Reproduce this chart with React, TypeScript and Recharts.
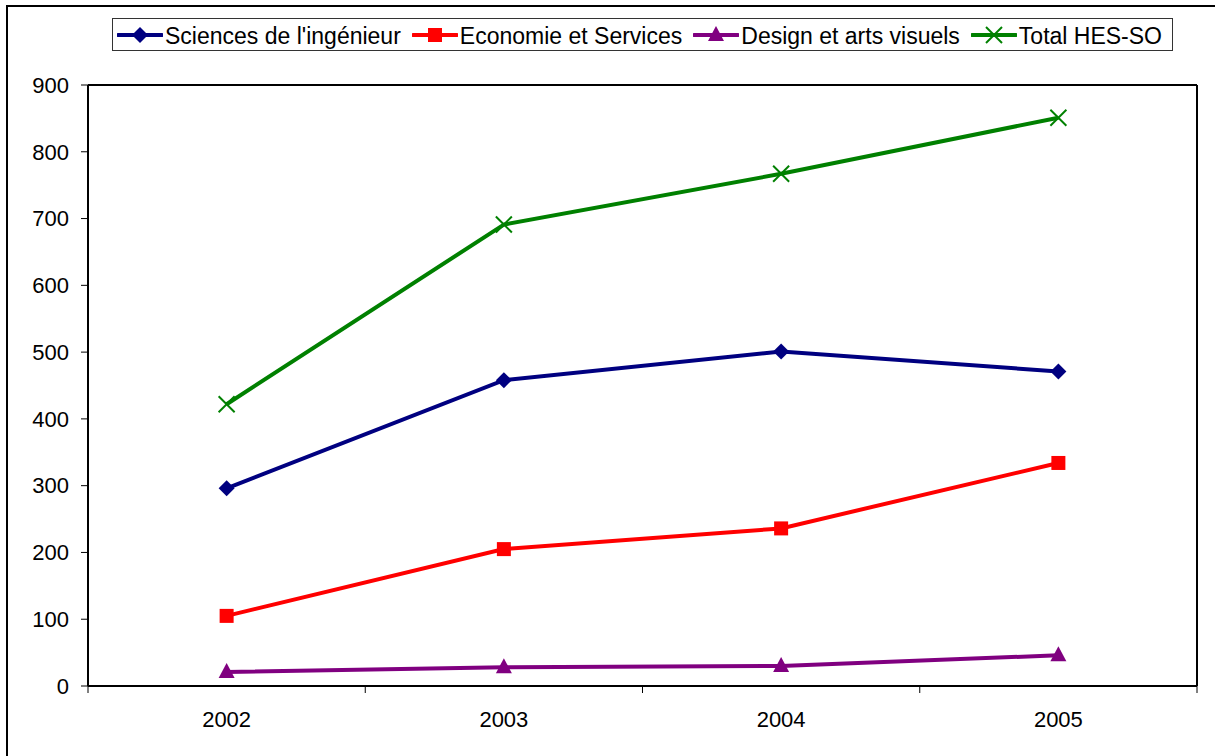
import { LineChart, Line, XAxis, YAxis, CartesianGrid, Legend, ReferenceLine } from "recharts";
import { ReactElement } from "react";

const years = ["2002", "2003", "2004", "2005"];
const ingenieur = [296, 458, 501, 471];
const economie = [105, 205, 236, 334];
const design = [21, 28, 30, 46];
const total = [422, 691, 767, 851];
const yTicks = [0, 100, 200, 300, 400, 500, 600, 700, 800, 900];

const data = years.map((year, i) => ({
  year,
  ingenieur: ingenieur[i],
  economie: economie[i],
  design: design[i],
  total: total[i],
}));

const FONT = "'Liberation Sans', Arial, sans-serif";
const W = 1215;
const H = 756;
const M = { top: 19, right: 0, bottom: 30, left: 0 };
const PLOT_LEFT = 88;
const PLOT_RIGHT = 1197;
const HALF_BAND = (PLOT_RIGHT - PLOT_LEFT) / years.length / 2;

type MarkerKind = "diamond" | "square" | "triangle" | "cross";

const Marker = ({ kind, cx, cy, color }: { kind: MarkerKind; cx: number; cy: number; color: string }) => {
  if (kind === "diamond")
    return <polygon points={`${cx},${cy - 8} ${cx + 8},${cy} ${cx},${cy + 8} ${cx - 8},${cy}`} fill={color} />;
  if (kind === "square") return <rect x={cx - 7} y={cy - 7} width={14} height={14} fill={color} />;
  if (kind === "triangle")
    return <polygon points={`${cx},${cy - 9} ${cx + 8},${cy + 6} ${cx - 8},${cy + 6}`} fill={color} />;
  return (
    <g stroke={color} strokeWidth={2}>
      <line x1={cx - 8} y1={cy - 8} x2={cx + 8} y2={cy + 8} />
      <line x1={cx - 8} y1={cy + 8} x2={cx + 8} y2={cy - 8} />
    </g>
  );
};

const series: { key: string; name: string; color: string; kind: MarkerKind }[] = [
  { key: "ingenieur", name: "Sciences de l'ingénieur", color: "#000080", kind: "diamond" },
  { key: "economie", name: "Economie et Services", color: "#FF0000", kind: "square" },
  { key: "design", name: "Design et arts visuels", color: "#800080", kind: "triangle" },
  { key: "total", name: "Total HES-SO", color: "#008000", kind: "cross" },
];

const LegendBox = () => (
  <div
    style={{
      position: "absolute",
      left: 112,
      top: -1,
      width: 1061,
      height: 33,
      boxSizing: "border-box",
      border: "1px solid #333",
      display: "flex",
      alignItems: "center",
      paddingLeft: 4,
      paddingTop: 4,
      fontFamily: FONT,
      fontSize: 23,
      color: "#000",
      background: "#fff",
    }}
  >
    {series.map((s) => (
      <div key={s.key} style={{ display: "flex", alignItems: "center", marginRight: 11 }}>
        <svg width={46} height={20} style={{ marginRight: 2, marginTop: -4 }}>
          <line x1={1} y1={10} x2={45} y2={10} stroke={s.color} strokeWidth={4} strokeLinecap="round" />
          <Marker kind={s.kind} cx={23} cy={10} color={s.color} />
        </svg>
        <span style={{ whiteSpace: "nowrap" }}>{s.name}</span>
      </div>
    ))}
  </div>
);

const XTick = (props: any) => {
  const { x, y, payload, index } = props;
  const axisY = y - 25;
  return (
    <g>
      <line x1={x - HALF_BAND} y1={axisY} x2={x - HALF_BAND} y2={axisY + 7} stroke="#000" />
      {index === years.length - 1 && (
        <line x1={x + HALF_BAND} y1={axisY} x2={x + HALF_BAND} y2={axisY + 7} stroke="#000" />
      )}
      <text x={x} y={y} dy="0.71em" textAnchor="middle" fontFamily={FONT} fontSize={22} fill="#000">
        {payload.value}
      </text>
    </g>
  );
};

export default function App(): ReactElement {
  return (
    <div style={{ position: "absolute", left: 0, top: 0, width: W, height: H, overflow: "hidden", background: "#fff" }}>
      <div
        style={{
          position: "absolute",
          left: 6,
          top: 5,
          width: W + 20,
          height: H + 20,
          border: "2px solid #000",
          boxSizing: "border-box",
        }}
      />
      <LineChart width={W} height={H} data={data} margin={M}>
        <CartesianGrid vertical={false} stroke="#808080" strokeWidth={1} />
        <XAxis
          dataKey="year"
          padding={{ left: HALF_BAND, right: HALF_BAND }}
          tickLine={false}
          tickSize={0}
          tickMargin={25}
          tick={<XTick />}
          axisLine={{ stroke: "#000", strokeWidth: 2 }}
          height={40}
          interval={0}
        />
        <YAxis
          yAxisId="left"
          domain={[0, 900]}
          ticks={yTicks}
          width={PLOT_LEFT}
          tickSize={7}
          tickMargin={12}
          interval={0}
          axisLine={{ stroke: "#000", strokeWidth: 2 }}
          tickLine={{ stroke: "#000" }}
          tick={{ fontFamily: FONT, fontSize: 22, fill: "#000" }}
        />
        <YAxis
          yAxisId="right"
          orientation="right"
          domain={[0, 900]}
          width={W - PLOT_RIGHT}
          tick={false}
          tickLine={false}
          axisLine={{ stroke: "#000", strokeWidth: 2 }}
        />
        <ReferenceLine yAxisId="left" y={900} stroke="#000" strokeWidth={2} />
        <Legend verticalAlign="top" height={66} content={() => <LegendBox />} />
        {series.map((s) => (
          <Line
            key={s.key}
            yAxisId="left"
            type="linear"
            dataKey={s.key}
            name={s.name}
            stroke={s.color}
            strokeWidth={4}
            isAnimationActive={false}
            dot={(p: any) => <Marker key={`${s.key}-${p.index}`} kind={s.kind} cx={p.cx} cy={p.cy} color={s.color} />}
            activeDot={false}
          />
        ))}
      </LineChart>
    </div>
  );
}
